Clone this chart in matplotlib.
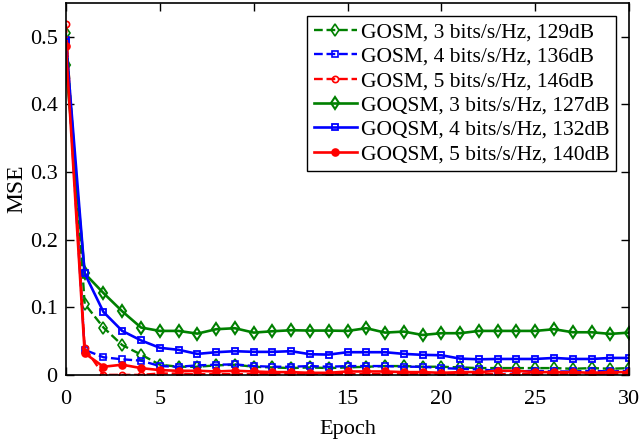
import matplotlib
matplotlib.use("Agg")
import matplotlib.pyplot as plt
import numpy as np

plt.rcParams["font.family"] = ["Liberation Serif", "DejaVu Serif"]

epochs = np.arange(31)

# GOSM (dashed, hollow markers)
gosm_3 = [0.506, 0.105, 0.070, 0.044, 0.030, 0.015, 0.012, 0.012, 0.014, 0.015, 0.012,
          0.011, 0.010, 0.011, 0.010, 0.011, 0.012, 0.013, 0.013, 0.012, 0.012,
          0.011, 0.010, 0.010, 0.010, 0.010, 0.010, 0.009, 0.010, 0.009, 0.010]
gosm_4 = [0.495, 0.037, 0.026, 0.023, 0.021, 0.013, 0.012, 0.014, 0.015, 0.0155, 0.013,
          0.012, 0.012, 0.013, 0.012, 0.013, 0.013, 0.013, 0.012, 0.012, 0.010,
          0.009, 0.008, 0.006, 0.005, 0.006, 0.005, 0.005, 0.006, 0.005, 0.006]
gosm_5 = [0.519, 0.040, 0.000, 0.000, 0.000, 0.002, 0.002, 0.001, 0.001, 0.001, 0.001,
          0.001, 0.001, 0.001, 0.001, 0.001, 0.001, 0.001, 0.001, 0.001, 0.001,
          0.001, 0.001, 0.001, 0.001, 0.001, 0.001, 0.001, 0.001, 0.001, 0.001]

# GOQSM (solid)
goqsm_3 = [0.458, 0.150, 0.121, 0.094, 0.070, 0.065, 0.065, 0.061, 0.0675, 0.069, 0.0625,
           0.0645, 0.066, 0.0655, 0.0655, 0.065, 0.069, 0.0625, 0.064, 0.059, 0.0616,
           0.0616, 0.065, 0.065, 0.065, 0.065, 0.0675, 0.063, 0.063, 0.0606, 0.0625]
goqsm_4 = [0.492, 0.150, 0.093, 0.065, 0.051, 0.040, 0.037, 0.031, 0.0335, 0.035, 0.034,
           0.034, 0.035, 0.0305, 0.030, 0.0335, 0.0335, 0.0335, 0.031, 0.0296, 0.029,
           0.024, 0.023, 0.0235, 0.0235, 0.0235, 0.025, 0.0235, 0.0235, 0.025, 0.025]
goqsm_5 = [0.486, 0.032, 0.012, 0.015, 0.010, 0.007, 0.006, 0.006, 0.005, 0.006, 0.005,
           0.004, 0.004, 0.003, 0.003, 0.005, 0.005, 0.005, 0.004, 0.004, 0.003,
           0.004, 0.004, 0.006, 0.006, 0.004, 0.004, 0.004, 0.003, 0.004, 0.004]

labels = ["GOSM, 3 bits/s/Hz, 129dB", "GOSM, 4 bits/s/Hz, 136dB", "GOSM, 5 bits/s/Hz, 146dB",
          "GOQSM, 3 bits/s/Hz, 127dB", "GOQSM, 4 bits/s/Hz, 132dB", "GOQSM, 5 bits/s/Hz, 140dB"]

green = "#008000"
blue = "#0000ff"
red = "#ff0000"

fig = plt.figure(figsize=(6.4, 4.41), dpi=100)
ax = fig.add_axes([0.103, 0.150, 0.880, 0.843])

ax.plot(epochs, gosm_3, "--", color=green, lw=1.7, marker="d", ms=6, mfc="none", mew=1.2, label=labels[0])
ax.plot(epochs, gosm_4, "--", color=blue, lw=1.7, marker="s", ms=4.5, mfc="none", mew=1.2, label=labels[1])
ax.plot(epochs, gosm_5, "--", color=red, lw=1.7, marker="o", ms=4.5, mfc="none", mew=1.2, label=labels[2])
ax.plot(epochs, goqsm_3, "-", color=green, lw=1.9, marker="d", ms=6, mfc="none", mew=1.5, label=labels[3])
ax.plot(epochs, goqsm_4, "-", color=blue, lw=1.9, marker="s", ms=4.5, mfc="none", mew=1.3, label=labels[4])
ax.plot(epochs, goqsm_5, "-", color=red, lw=1.9, marker="o", ms=5, mfc=red, mew=1.2, label=labels[5])

ax.set_xlim(0, 30)
ax.set_ylim(0, 0.55)
ax.set_xticks([0, 5, 10, 15, 20, 25, 30])
ax.set_yticks([0, 0.1, 0.2, 0.3, 0.4, 0.5])
ax.set_yticklabels(["0", "0.1", "0.2", "0.3", "0.4", "0.5"])
ax.tick_params(direction="in", top=True, right=True, labelsize=16, length=6, width=1)
ax.tick_params(axis="x", pad=11)
ax.tick_params(axis="y", pad=6)
for s in ax.spines.values():
    s.set_linewidth(1.2)
ax.set_xlabel("Epoch", fontsize=16, labelpad=8)
ax.set_ylabel("MSE", fontsize=17, labelpad=2)

leg = ax.legend(loc="upper right", fontsize=15.5, frameon=True, fancybox=False, edgecolor="black",
                framealpha=1, handlelength=2.0, handletextpad=0.2, labelspacing=0.2,
                borderpad=0.3, borderaxespad=0.6)
leg.get_frame().set_linewidth(1.0)

fig.savefig("out.png", dpi=100)
